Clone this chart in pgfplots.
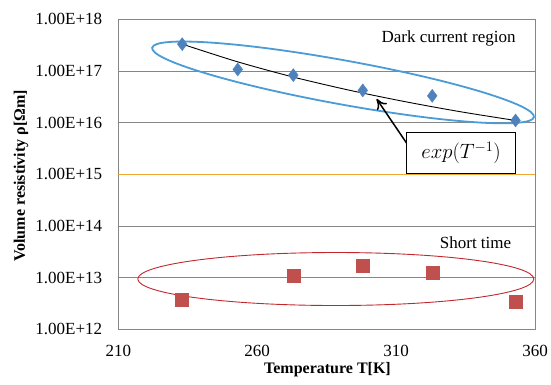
\documentclass[border=0pt]{standalone}
\usepackage{pgfplots}
\pgfplotsset{compat=1.18}
\usepackage{fontspec}
\setmainfont{Liberation Serif}
\usetikzlibrary{arrows.meta}
\definecolor{gridgray}{RGB}{134,134,134}
\definecolor{bluemk}{RGB}{79,129,189}
\definecolor{redmk}{RGB}{192,80,77}
\definecolor{ellblue}{RGB}{74,155,214}
\definecolor{ellred}{RGB}{192,40,45}
\definecolor{orangeln}{RGB}{240,168,50}
\begin{document}
\begin{tikzpicture}
\path[use as bounding box] (0pt,0pt) rectangle (551pt,385pt);
\begin{axis}[
  at={(118.3pt,55.7pt)}, anchor=south west,
  scale only axis, width=416.7pt, height=310pt,
  xmin=210, xmax=360, ymode=log, log basis y=10, ymin=1e12, ymax=1e18,
  xtick={210,260,310,360}, xticklabels={210,260,310,360},
  ytick={1e12,1e13,1e14,1e15,1e16,1e17,1e18},
  yticklabels={1.00E+12,1.00E+13,1.00E+14,1.00E+15,1.00E+16,1.00E+17,1.00E+18},
  minor ytick={}, yminorticks=false,
  major tick length=0pt,
  ymajorgrids, grid style={gridgray, line width=0.8pt},
  axis line style={gridgray, line width=0.9pt},
  tick label style={font=\fontsize{17}{20}\selectfont, text=black},
  yticklabel style={anchor=east, inner sep=0pt, xshift=-16pt},
  xticklabel style={anchor=north, inner sep=0pt, yshift=-16pt},
  xlabel={Temperature T[K]},
  ylabel={Volume resistivity ρ[Ωm]},
  label style={font=\fontsize{16}{19}\selectfont\bfseries},
  xlabel style={at={(axis description cs:0.502,-0.131)}, anchor=center},
  ylabel style={at={(axis description cs:-0.2335,0.495)}, anchor=center},
  clip=false,
]
% threshold line
\addplot[orangeln, line width=1.2pt, forget plot] coordinates {(210,1e15) (360,1e15)};
% ellipses
\draw[ellblue, line width=1.8pt, rotate around={-10.3:(axis cs:290.9,6.0e16)}] (axis cs:290.9,6.0e16) ellipse (194pt and 22pt);
\draw[ellred, line width=0.9pt] (axis cs:288.3,9.4e12) ellipse (198pt and 26.5pt);
% fit line
\addplot[black, line width=0.9pt, smooth, forget plot] coordinates {
 (233,3.31e17) (253,1.50e17) (273,7.62e16) (293,4.26e16) (313,2.56e16) (333,1.63e16) (353,1.10e16)};
% dark current data
\addplot[only marks, mark=diamond*, mark size=6.5pt, color=bluemk] coordinates {
 (233,3.3e17) (253,1.07e17) (273,8.3e16) (298,4.2e16) (323,3.3e16) (353,1.1e16)};
% short time data
\addplot[only marks, mark=square*, mark size=6.5pt, color=redmk] coordinates {
 (233,3.7e12) (273,1.07e13) (298,1.67e13) (323,1.24e13) (353,3.4e12)};
% annotations
\node[font=\fontsize{17}{20}\selectfont] at (axis cs:328.9,4.35e17) {Dark current region};
\node[font=\fontsize{17}{20}\selectfont] at (axis cs:338.6,4.7e13) {Short time};
\draw[-{To[length=10pt,width=12pt]}, line width=1.5pt] (axis cs:313.8,4.0e15) -- (axis cs:303.0,2.87e16);
\node[draw=black, fill=white, line width=1.2pt, minimum width=109pt, minimum height=40.6pt, inner sep=0pt, font=\fontsize{22}{26}\selectfont] at (axis cs:333.4,2.6e15) {$exp(T^{-1})$};
\end{axis}
\end{tikzpicture}
\end{document}
